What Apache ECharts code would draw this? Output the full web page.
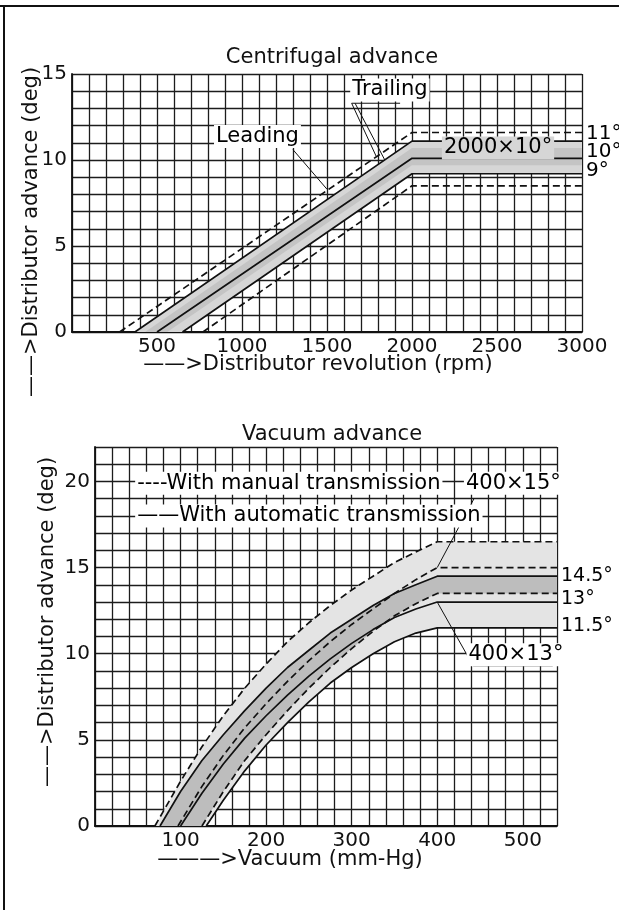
<!DOCTYPE html>
<html>
<head>
<meta charset="utf-8">
<script src="https://cdn.jsdelivr.net/npm/echarts@6/dist/echarts.min.js"></script>
<style>
html, body { margin: 0; padding: 0; background: #fff; }
#chart { width: 619px; height: 910px; }
</style>
</head>
<body>
<div id="chart"></div>
<script>
// ---- Centrifugal advance: [rpm, deg] ----
var cfDashUpper = [[280, 0], [2000, 11.6], [3000, 11.6]];
var cfSolidUpper = [[370, 0], [2000, 11.1], [3000, 11.1]];
var cfSolidMid = [[500, 0], [2000, 10.1], [3000, 10.1]];
var cfSolidLower = [[650, 0], [2000, 9.2], [3000, 9.2]];
var cfDashLower = [[770, 0], [2000, 8.5], [3000, 8.5]];

// ---- Vacuum advance: [mm-Hg, deg] ----
// manual transmission (dashed)
var vaManualUpper = [[70, 0], [100, 2.6], [125, 4.6], [150, 6.4], [175, 8.0], [200, 9.4], [225, 10.7], [250, 11.8], [275, 12.8], [300, 13.7], [325, 14.5], [350, 15.3], [375, 15.9], [400, 16.5], [540, 16.5]];
var vaManualMid = [[97, 0], [125, 2.3], [150, 4.1], [175, 5.7], [200, 7.1], [225, 8.4], [250, 9.6], [275, 10.7], [300, 11.7], [325, 12.6], [350, 13.5], [375, 14.3], [400, 15.0], [540, 15.0]];
var vaManualLower = [[125, 0], [150, 2.0], [175, 3.8], [200, 5.3], [225, 6.7], [250, 8.0], [275, 9.2], [300, 10.3], [325, 11.3], [350, 12.2], [375, 12.9], [400, 13.5], [540, 13.5]];
// automatic transmission (solid)
var vaAutoUpper = [[76, 0], [100, 2.0], [125, 3.8], [150, 5.3], [175, 6.7], [200, 8.0], [225, 9.2], [250, 10.2], [275, 11.2], [300, 12.0], [325, 12.8], [350, 13.5], [375, 14.0], [400, 14.5], [540, 14.5]];
var vaAutoMid = [[100, 0], [125, 1.9], [150, 3.6], [175, 5.1], [200, 6.4], [225, 7.6], [250, 8.7], [275, 9.7], [300, 10.6], [325, 11.4], [350, 12.1], [375, 12.6], [400, 13.0], [540, 13.0]];
var vaAutoLower = [[130, 0], [150, 1.5], [175, 3.2], [200, 4.7], [225, 6.0], [250, 7.2], [275, 8.3], [300, 9.2], [325, 10.0], [350, 10.7], [375, 11.2], [400, 11.5], [540, 11.5]];

// tick labels
var cfXLabels = [500, 1000, 1500, 2000, 2500, 3000];
var cfYLabels = [0, 5, 10, 15];
var vaXLabels = [100, 200, 300, 400, 500];
var vaYLabels = [0, 5, 10, 15, 20];

// annotations
var cfTexts = [
  { value: [1091, 11.37], name: 'Leading' },
  { value: [1870, 14.07], name: 'Trailing' }
];
var cfRightTexts = [
  { value: [3000, 11.5], name: '11°' },
  { value: [3000, 10.47], name: '10°' },
  { value: [3000, 9.36], name: '9°' }
];
var cfLeaders = [
  [[1300, 10.6], [1500, 8.3]],
  [[1930, 13.3], [1645, 13.3], [1790, 10.2]],
  [[1665, 13.3], [1840, 10.0]]
];
var vaLegend = [
  { value: [44.6, 19.9], name: '----With manual transmission' },
  { value: [44.6, 18.0], name: '——With automatic transmission' }
];
var vaTexts = [
  { value: [489, 19.9], name: '400×15°' },
  { value: [492, 9.94], name: '400×13°' }
];
var vaRightTexts = [
  { value: [540, 14.5], name: '14.5°' },
  { value: [540, 13.2], name: '13°' },
  { value: [540, 11.6], name: '11.5°' }
];
var vaLeaders = [
  [[400, 15], [443, 19]],
  [[400, 13], [442, 9.3], [535, 9.3]]
];

var FONT = 'DejaVu Sans';
var INK = '#111';

function pick(list) {
  return function (v) { return list.indexOf(v) >= 0 ? String(v) : ''; };
}

function axisX(idx, max, step, labels) {
  return {
    type: 'value', gridIndex: idx, min: 0, max: max, interval: step,
    axisLine: { lineStyle: { color: INK, width: 1.8 } },
    axisTick: { show: false },
    axisLabel: { formatter: pick(labels), color: INK, fontFamily: FONT, fontSize: 20, margin: 5 },
    splitLine: { lineStyle: { color: '#1c1c1c', width: 1.3 } }
  };
}
function axisY(idx, max, labels) {
  return {
    type: 'value', gridIndex: idx, min: 0, max: max, interval: 1,
    axisLine: { lineStyle: { color: INK, width: 1.8 } },
    axisTick: { show: false },
    axisLabel: { formatter: pick(labels), color: INK, fontFamily: FONT, fontSize: 20, margin: 5 },
    splitLine: { lineStyle: { color: '#1c1c1c', width: 1.3 } }
  };
}

function band(idx, upper, lower, color, z) {
  var pts = upper.concat(lower.slice().reverse());
  return {
    type: 'custom', xAxisIndex: idx, yAxisIndex: idx, z: z, silent: true,
    data: [[0, 0]],
    renderItem: function (params, api) {
      return {
        type: 'polygon',
        shape: { points: pts.map(function (p) { return api.coord(p); }) },
        style: { fill: color }
      };
    }
  };
}

function curve(idx, data, dashed, width) {
  return {
    type: 'line', xAxisIndex: idx, yAxisIndex: idx, data: data, z: 5,
    showSymbol: false, silent: true,
    lineStyle: { color: INK, width: width || 1.7, type: dashed ? [7, 4] : 'solid' }
  };
}

function labels(idx, items, pos, size, bg) {
  return {
    type: 'scatter', xAxisIndex: idx, yAxisIndex: idx, data: items, z: 8,
    symbolSize: 0, silent: true, clip: false,
    itemStyle: { opacity: 1 },
    label: {
      show: true, position: pos, distance: 2, formatter: '{b}',
      color: '#000', opacity: 1, fontFamily: FONT, fontSize: size,
      backgroundColor: bg || 'transparent', padding: [1, 2]
    }
  };
}

var series = [
  // centrifugal
  band(0, cfSolidUpper, cfSolidLower, '#d6d6d6', 2),
  band(0, [[430, 0], [2000, 10.7], [3000, 10.7]], [[560, 0], [2000, 9.7], [3000, 9.7]], '#c4c4c4', 3),
  curve(0, cfDashUpper, true),
  curve(0, cfSolidUpper, false),
  curve(0, cfSolidMid, false),
  curve(0, cfSolidLower, false),
  curve(0, cfDashLower, true),
  labels(0, cfTexts, 'inside', 21, '#fff'),
  labels(0, [{ value: [2506, 10.7], name: '2000×10°' }], 'inside', 21, '#d6d6d6'),
  labels(0, cfRightTexts, 'right', 20),
  // vacuum
  band(1, vaManualUpper, vaAutoLower, '#e4e4e4', 2),
  band(1, vaAutoUpper, vaManualLower, '#bdbdbd', 3),
  curve(1, vaManualUpper, true),
  curve(1, vaManualMid, true),
  curve(1, vaManualLower, true),
  curve(1, vaAutoUpper, false),
  curve(1, vaAutoMid, false),
  curve(1, vaAutoLower, false),
  labels(1, vaLegend, 'right', 21, '#fff'),
  labels(1, vaTexts, 'inside', 21, '#fff'),
  labels(1, vaRightTexts, 'right', 19)
];
cfLeaders.forEach(function (d) { series.push(curve(0, d, false, 1)); });
vaLeaders.forEach(function (d) { series.push(curve(1, d, false, 1)); });

var option = {
  backgroundColor: '#fff',
  animation: false,
  title: [
    { text: 'Centrifugal advance', left: 327, top: 42, textAlign: 'center',
      textStyle: { fontFamily: FONT, fontSize: 21, fontWeight: 'normal', color: INK } },
    { text: 'Vacuum advance', left: 327, top: 419, textAlign: 'center',
      textStyle: { fontFamily: FONT, fontSize: 21, fontWeight: 'normal', color: INK } }
  ],
  grid: [
    { left: 72, top: 74, width: 510, height: 258 },
    { left: 95, top: 447, width: 462, height: 379 }
  ],
  xAxis: [axisX(0, 3000, 100, cfXLabels), axisX(1, 540, 20, vaXLabels)],
  yAxis: [axisY(0, 15, cfYLabels), axisY(1, 22, vaYLabels)],
  series: series,
  graphic: [
    { type: 'line', shape: { x1: 0, y1: 6, x2: 619, y2: 6 }, style: { stroke: INK, lineWidth: 2 } },
    { type: 'line', shape: { x1: 4, y1: 6, x2: 4, y2: 910 }, style: { stroke: INK, lineWidth: 2 } },
    { type: 'text', x: 318, y: 365, style: { text: '——>Distributor revolution (rpm)', font: '21px "DejaVu Sans"', fill: INK, align: 'center', verticalAlign: 'middle' } },
    { type: 'text', x: 290, y: 860, style: { text: '———>Vacuum (mm-Hg)', font: '21px "DejaVu Sans"', fill: INK, align: 'center', verticalAlign: 'middle' } },
    { type: 'text', x: 32, y: 232, rotation: Math.PI / 2, style: { text: '——>Distributor advance (deg)', font: '21px "DejaVu Sans"', fill: INK, align: 'center', verticalAlign: 'middle' } },
    { type: 'text', x: 48, y: 622, rotation: Math.PI / 2, style: { text: '——>Distributor advance (deg)', font: '21px "DejaVu Sans"', fill: INK, align: 'center', verticalAlign: 'middle' } }
  ]
};

var chart = echarts.init(document.getElementById('chart'));
chart.setOption(option);
</script>
</body>
</html>
